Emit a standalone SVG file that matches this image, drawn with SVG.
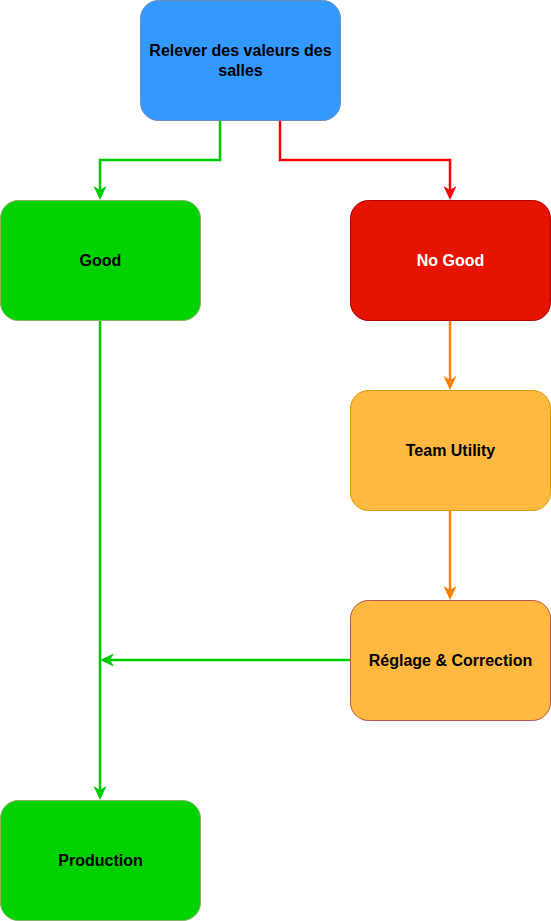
<svg xmlns="http://www.w3.org/2000/svg" width="551" height="921" viewBox="0 0 551 921">
<defs>
<style>
.n{stroke-width:1}
.t{font-family:"Liberation Sans",Arial,sans-serif;font-weight:bold;font-size:16px;text-anchor:middle;dominant-baseline:central}
.c{fill:none;stroke-width:2.5}
.g{stroke:#00CC00}.r{stroke:#FF0000}.o{stroke:#FF8000}
.hg{fill:#00CC00}.hr{fill:#FF0000}.ho{fill:#FF8000}
</style>
<path id="head" d="M0,0 L-6.5,-14 L0,-10 L6.5,-14 Z"/>
</defs>
<rect width="551" height="921" fill="#ffffff"/>
<g id="connectors">
<path class="c g" d="M220,120 V160 H100 V192"/>
<use href="#head" class="hg" transform="translate(100,200)"/>
<path class="c r" d="M280,120 V160 H450 V192"/>
<use href="#head" class="hr" transform="translate(450,200)"/>
<path class="c o" d="M450,320 V382"/>
<use href="#head" class="ho" transform="translate(450,390)"/>
<path class="c o" d="M450,510 V592"/>
<use href="#head" class="ho" transform="translate(450,600)"/>
<path class="c g" d="M100,320 V792"/>
<use href="#head" class="hg" transform="translate(100,800)"/>
<path class="c g" d="M350,660 H108"/>
<use href="#head" class="hg" transform="translate(100,660) rotate(90)"/>
</g>
<g id="relever">
<rect class="n" x="140.5" y="0.5" width="200" height="120" rx="18" fill="#3399FF" stroke="#6C8EBF"/>
<text class="t" x="240.5" y="50">Relever des valeurs des</text>
<text class="t" x="240.5" y="70">salles</text>
</g>
<g id="good">
<rect class="n" x="0.5" y="200.5" width="200" height="120" rx="18" fill="#00D100" stroke="#82B366"/>
<text class="t" x="100.5" y="260.5">Good</text>
</g>
<g id="nogood">
<rect class="n" x="350.5" y="200.5" width="200" height="120" rx="18" fill="#E51400" stroke="#B20000"/>
<text class="t" x="450.5" y="260.5" fill="#ffffff">No Good</text>
</g>
<g id="team">
<rect class="n" x="350.5" y="390.5" width="200" height="120" rx="18" fill="#FFB940" stroke="#D79B00"/>
<text class="t" x="450.5" y="450.5">Team Utility</text>
</g>
<g id="reglage">
<rect class="n" x="350.5" y="600.5" width="200" height="120" rx="18" fill="#FFB940" stroke="#B85450"/>
<text class="t" x="450.5" y="660.5">Réglage &amp; Correction</text>
</g>
<g id="production">
<rect class="n" x="0.5" y="800.5" width="200" height="120" rx="18" fill="#00D100" stroke="#82B366"/>
<text class="t" x="100.5" y="860.5">Production</text>
</g>
</svg>
